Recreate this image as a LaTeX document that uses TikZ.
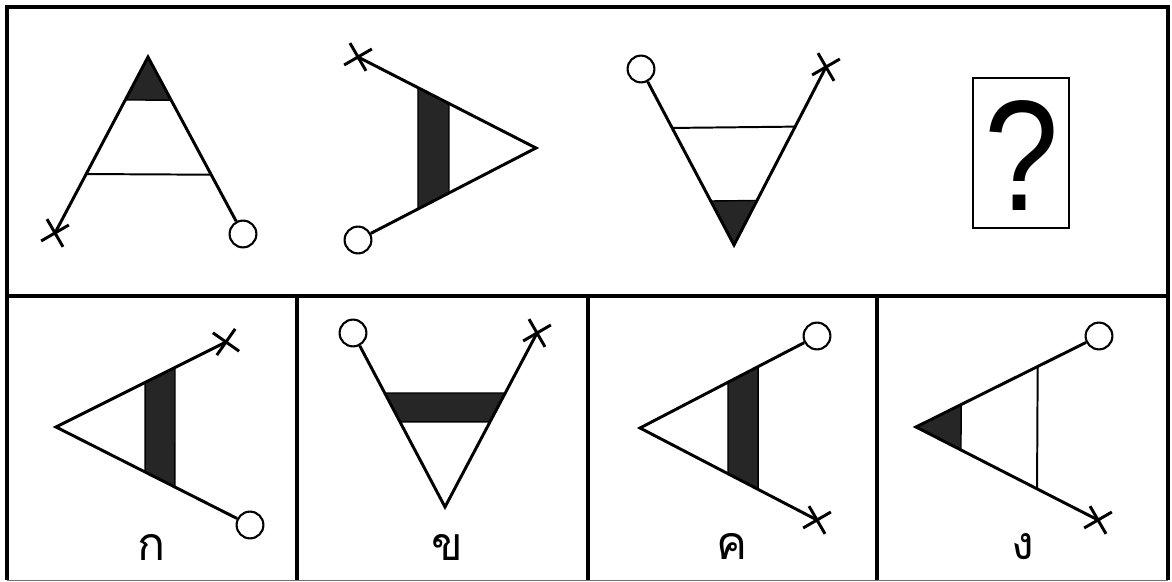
\documentclass[tikz,border=0pt]{standalone}
\usepackage{fontspec}
\usetikzlibrary{calc}
\newfontfamily\thaifont[Script=Thai]{Loma}
\newfontfamily\qfont{Liberation Sans}

\tikzset{
  frame/.style={line width=3.2pt},
  leg/.style={line width=2.1pt, line join=miter},
  thinline/.style={line width=1.4pt},
  band/.style={fill=black!85, draw=black, line width=1pt},
  ring/.style={circle, draw, line width=1.5pt, inner sep=0pt, minimum size=0.67cm},
  choice/.style={font=\thaifont\fontsize{33}{33}\selectfont, anchor=base, inner sep=0pt}
}

% cross mark at a coordinate, first stroke at the given angle
\newcommand{\crossat}[2]{%
  \draw[leg] ($(#2)+({-#1}:16)$) -- ($(#2)+({180-#1}:16)$)
             ($(#2)+({-#1-90}:16)$) -- ($(#2)+({90-#1}:16)$);}

\begin{document}
\begin{tikzpicture}[x=0.025cm, y=-0.025cm]

\useasboundingbox (0,0) rectangle (1172,582);

% --- frame ---
\draw[frame] (7,580) -- (7,7) -- (1168,7) -- (1168,580);
\draw[line width=1.4pt, black!55] (7,580.5) -- (1168,580.5);
\draw[frame] (7,296) -- (1168,296);
\foreach \xd in {297,588,877}
  \draw[frame] (\xd,296) -- (\xd,580);

% --- top row ---

% figure 1: apex up
\coordinate (a1) at (148,57);
\coordinate (x1) at (55,233);
\node[ring] (c1) at (243,234) {};
\fill[band] (a1) -- ($(a1)!0.244!(x1)$) -- ($(a1)!0.244!(c1.center)$) -- cycle;
\draw[thinline] ($(a1)!0.665!(x1)$) -- ($(a1)!0.665!(c1.center)$);
\draw[leg] (x1) -- (a1) -- (c1);
\crossat{30}{x1}

% figure 2: apex right
\coordinate (a2) at (536,148);
\coordinate (x2) at (358,57);
\node[ring] (c2) at (358,240) {};
\fill[band] ($(x2)!0.337!(a2)$) -- ($(x2)!0.511!(a2)$)
  -- ($(c2.center)!0.511!(a2)$) -- ($(c2.center)!0.337!(a2)$) -- cycle;
\draw[leg] (x2) -- (a2) -- (c2);
\crossat{30}{x2}

% figure 3: apex down
\coordinate (a3) at (734,245);
\coordinate (x3) at (826,67);
\node[ring] (c3) at (641,69) {};
\fill[band] (a3) -- ($(a3)!0.25!(c3.center)$) -- ($(a3)!0.25!(x3)$) -- cycle;
\draw[thinline] ($(a3)!0.665!(c3.center)$) -- ($(a3)!0.665!(x3)$);
\draw[leg] (c3) -- (a3) -- (x3);
\crossat{30}{x3}

% figure 4: unknown
\node[draw, line width=1.3pt, minimum width=2.4cm, minimum height=3.75cm,
      inner sep=0pt] (q) at (1021,153) {};
\node[font=\qfont\fontsize{112}{112}\selectfont, xscale=0.85, transform shape]
  (qm) at (1022,156) {?};

% --- bottom row: choices ---

% choice 1
\coordinate (b1) at (56,427);
\coordinate (y1) at (226,342);
\node[ring] (d1) at (250,525) {};
\fill[band] ($(b1)!0.524!(y1)$) -- ($(b1)!0.7!(y1)$)
  -- ($(b1)!0.613!(d1.center)$) -- ($(b1)!0.459!(d1.center)$) -- cycle;
\draw[leg] (y1) -- (b1) -- (d1);
\crossat{-35}{y1}
\node[choice] (l1) at (152,561) {ก};

% choice 2
\coordinate (b2) at (445,507);
\coordinate (y2) at (537,333);
\node[ring] (d2) at (353,333) {};
\fill[band] ($(b2)!0.655!(d2.center)$) -- ($(b2)!0.655!(y2)$)
  -- ($(b2)!0.489!(y2)$) -- ($(b2)!0.489!(d2.center)$) -- cycle;
\draw[leg] (d2) -- (b2) -- (y2);
\crossat{30}{y2}
\node[choice] (l2) at (447,561) {ข};

% choice 3
\coordinate (b3) at (640,428);
\coordinate (y3) at (817,520);
\node[ring] (d3) at (817,336) {};
\fill[band] ($(b3)!0.497!(d3.center)$) -- ($(b3)!0.667!(d3.center)$)
  -- ($(b3)!0.667!(y3)$) -- ($(b3)!0.497!(y3)$) -- cycle;
\draw[leg] (d3) -- (b3) -- (y3);
\crossat{30}{y3}
\node[choice] (l3) at (732,560) {ค};

% choice 4
\coordinate (b4) at (916,427);
\coordinate (y4) at (1098,520);
\node[ring] (d4) at (1099,336) {};
\fill[band] (b4) -- ($(b4)!0.247!(d4.center)$) -- ($(b4)!0.247!(y4)$) -- cycle;
\draw[thinline] ($(b4)!0.665!(d4.center)$) -- ($(b4)!0.665!(y4)$);
\draw[leg] (d4) -- (b4) -- (y4);
\crossat{30}{y4}
\node[choice] (l4) at (1023,560) {ง};

\end{tikzpicture}
\end{document}
